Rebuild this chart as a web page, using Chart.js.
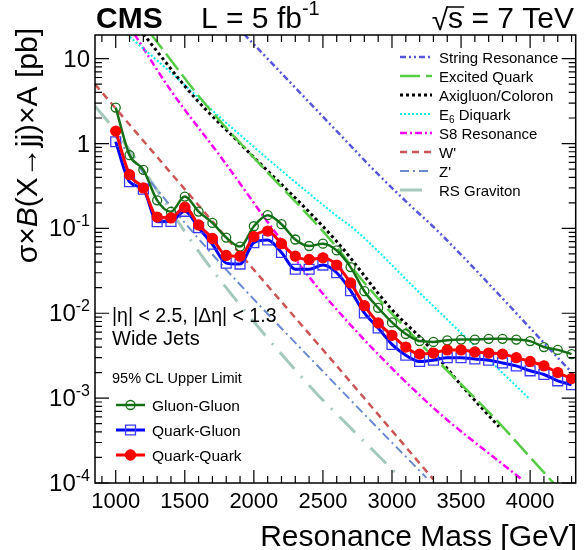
<!DOCTYPE html>
<html>
<head>
<meta charset="utf-8">
<script src="https://cdn.jsdelivr.net/npm/chart.js@4.4.0/dist/chart.umd.min.js"></script>
<style>
html, body { margin: 0; padding: 0; background: #fff; }
#wrap { width: 584px; height: 550px; position: relative; }
</style>
</head>
<body>
<div id="wrap"><canvas id="chart"></canvas></div>
<script>
"use strict";
// limits, one point per 100 GeV
const masses = [1000, 1100, 1200, 1300, 1400, 1500, 1600, 1700, 1800, 1900, 2000, 2100, 2200, 2300, 2400, 2500, 2600,
    2700, 2800, 2900, 3000, 3100, 3200, 3300, 3400, 3500, 3600, 3700, 3800, 3900, 4000, 4100, 4200, 4300];
const gluonGluon = [2.65, 0.73, 0.49, 0.214, 0.157, 0.237, 0.158, 0.116, 0.078, 0.061, 0.106, 0.143, 0.112, 0.074, 0.062, 0.066, 0.055,
    0.035, 0.0182, 0.0116, 0.0078, 0.0057, 0.0047, 0.0046, 0.0048, 0.0049, 0.0049, 0.0050, 0.0050, 0.0049, 0.0047, 0.0040, 0.0037, 0.0033];
const quarkGluon = [1.05, 0.355, 0.29, 0.12, 0.121, 0.159, 0.102, 0.065, 0.039, 0.038, 0.068, 0.073, 0.052, 0.033, 0.033, 0.037, 0.030,
    0.0185, 0.0101, 0.0067, 0.0043, 0.0032, 0.0027, 0.0028, 0.0030, 0.0030, 0.0029, 0.0028, 0.0026, 0.0024, 0.0021, 0.0019, 0.0016, 0.00144];
const quarkQuark = [1.40, 0.43, 0.30, 0.136, 0.133, 0.178, 0.110, 0.076, 0.048, 0.047, 0.080, 0.093, 0.066, 0.047, 0.043, 0.045, 0.037,
    0.0228, 0.0123, 0.0077, 0.0055, 0.0040, 0.0033, 0.0034, 0.0037, 0.0037, 0.0035, 0.0034, 0.0033, 0.0030, 0.0027, 0.0024, 0.0020, 0.0017];

// theory curves
const stringMass = [1930, 2600, 2890, 3150, 3320, 4290];
const stringXsec = [19.4, 1.4, 0.45, 0.175, 0.097, 0.0021];
const qstarMass = [1250, 1650, 2000, 2600, 2780, 3200, 3730, 4170, 4300];
const qstarXsec = [20, 2.9, 0.68, 0.06, 0.025, 0.0045, 0.00061, 0.0001, 0.00006];
const axigluonMass = [1200, 1570, 1900, 2600, 3000, 3230, 3500, 3775];
const axigluonXsec = [19.5, 3.5, 1.0, 0.07, 0.011, 0.0047, 0.00143, 0.00046];
const diquarkMass = [1080, 1430, 1760, 2600, 2730, 3200, 3990];
const diquarkXsec = [19.4, 6.2, 2.0, 0.14, 0.097, 0.0174, 0.001];
const s8Mass = [1136, 1393, 1774, 2134, 2500, 3250, 3940];
const s8Xsec = [19.4, 4.35, 0.65, 0.1, 0.017, 0.00091, 0.00011];
const wprimeMass = [850, 1450, 2070, 2600, 3300];
const wprimeXsec = [5.0, 0.36, 0.024, 0.0024, 0.00011];
const zprimeMass = [1000, 1250, 1670, 2600, 3250];
const zprimeXsec = [1.2, 0.36, 0.056, 0.0014, 0.000115];
const gravitonMass = [850, 1000, 1690, 2440, 2650, 3050];
const gravitonXsec = [2.76, 1.4, 0.034, 0.0012, 0.00054, 0.00012];

const xMin = 850, xMax = 4330;
const yMin = 1e-4, yMax = 19;
const xTicks = [1000, 1500, 2000, 2500, 3000, 3500, 4000];
const yTicks = [1e-4, 1e-3, 1e-2, 1e-1, 1, 10];
const yTickBase = ["10", "10", "10", "10", "1", "10"];
const yTickExp = ["-4", "-3", "-2", "-1", "", ""];

const FONT = '"Liberation Sans", Arial, sans-serif';

function pts(xArr, yArr) {
    return xArr.map((x, i) => ({x: x, y: yArr[i]}));
}

const theory = [
    {label: "String Resonance", data: pts(stringMass, stringXsec), color: "#5656dc", dash: [6, 3, 2, 3, 2, 3], width: 2.5},
    {label: "Excited Quark", data: pts(qstarMass, qstarXsec), color: "#55cc44", dash: [20, 6], width: 2.5},
    {label: "Axigluon/Coloron", data: pts(axigluonMass, axigluonXsec), color: "#000000", dash: [3, 3], width: 3},
    {label: "E6 Diquark", data: pts(diquarkMass, diquarkXsec), color: "#00eeee", dash: [2, 2], width: 2},
    {label: "S8 Resonance", data: pts(s8Mass, s8Xsec), color: "#ff00ff", dash: [7, 3, 2, 3], width: 2.5},
    {label: "W'", data: pts(wprimeMass, wprimeXsec), color: "#cc5555", dash: [7, 5], width: 2.5},
    {label: "Z'", data: pts(zprimeMass, zprimeXsec), color: "#6a8ad0", dash: [9, 4, 2, 4], width: 2},
    {label: "RS Graviton", data: pts(gravitonMass, gravitonXsec), color: "#a5c9bb", dash: [22, 10, 2, 10], width: 3}
];

const limits = [
    {label: "Quark-Quark", data: pts(masses, quarkQuark), color: "#ff0000", style: "circle", radius: 5, fill: "#ff0000", width: 3},
    {label: "Quark-Gluon", data: pts(masses, quarkGluon), color: "#0000ff", style: "rect", radius: 7, fill: "rgba(0,0,0,0)", width: 3, marker: "#3a3aff"},
    {label: "Gluon-Gluon", data: pts(masses, gluonGluon), color: "#157015", style: "circle", radius: 4.5, fill: "rgba(0,0,0,0)", width: 2.5}
];

const datasets = [];
limits.forEach(l => {
    datasets.push({
        label: l.label, data: l.data,
        borderColor: l.color, borderWidth: l.width,
        pointStyle: l.style, pointRadius: l.radius,
        pointBackgroundColor: l.fill, pointBorderColor: l.marker || l.color, pointBorderWidth: 1.3,
        cubicInterpolationMode: "monotone", fill: false
    });
});
theory.forEach(t => {
    datasets.push({
        label: t.label, data: t.data,
        borderColor: t.color, borderWidth: t.width, borderDash: t.dash,
        pointRadius: 0, cubicInterpolationMode: "monotone", fill: false
    });
});

function drawSup(ctx, x, y, base, exp, size, align) {
    ctx.font = size + "px " + FONT;
    const wb = ctx.measureText(base).width;
    ctx.font = Math.round(size * 0.68) + "px " + FONT;
    const we = exp ? ctx.measureText(exp).width : 0;
    let start = align === "right" ? x - wb - we : x;
    ctx.font = size + "px " + FONT;
    ctx.fillText(base, start, y);
    if(exp) {
        ctx.font = Math.round(size * 0.68) + "px " + FONT;
        ctx.fillText(exp, start + wb, y - size * 0.42);
    }
}

function legendMarker(ctx, l, x, y) {
    ctx.setLineDash([]);
    ctx.lineWidth = 1.3;
    ctx.strokeStyle = l.marker || l.color;
    ctx.fillStyle = l.fill;
    ctx.beginPath();
    if(l.style === "circle") {
        ctx.arc(x, y, l.radius, 0, Math.PI * 2);
    } else {
        const s = l.radius * Math.SQRT1_2;
        ctx.rect(x - s, y - s, 2 * s, 2 * s);
    }
    ctx.fill();
    ctx.stroke();
}

const decorations = {
    id: "decorations",
    afterDatasetsDraw(chart) {
        const ctx = chart.ctx;
        const a = chart.chartArea;
        const xs = chart.scales.x, ys = chart.scales.y;
        ctx.save();
        ctx.setLineDash([]);
        ctx.strokeStyle = "#000";
        ctx.fillStyle = "#000";

        // ticks, inside the frame
        ctx.lineWidth = 1.2;
        ctx.beginPath();
        for(let m = 900; m <= xMax; m += 100) {
            const px = xs.getPixelForValue(m);
            const len = m % 500 === 0 ? 13 : 7;
            ctx.moveTo(px, a.bottom); ctx.lineTo(px, a.bottom - len);
            ctx.moveTo(px, a.top); ctx.lineTo(px, a.top + len);
        }
        for(let e = -4; e <= 1; e++) {
            for(let k = 1; k <= 9; k++) {
                const v = k * Math.pow(10, e);
                if(v > yMax) break;
                const py = ys.getPixelForValue(v);
                const len = k === 1 ? 14 : 7;
                ctx.moveTo(a.left, py); ctx.lineTo(a.left + len, py);
                ctx.moveTo(a.right, py); ctx.lineTo(a.right - len, py);
            }
        }
        ctx.stroke();
        ctx.lineWidth = 1.5;
        ctx.strokeRect(a.left, a.top, a.right - a.left, a.bottom - a.top);

        // tick labels
        ctx.textBaseline = "alphabetic";
        ctx.font = "22px " + FONT;
        ctx.textAlign = "center";
        xTicks.forEach(v => ctx.fillText(String(v), xs.getPixelForValue(v), 508));
        ctx.textAlign = "left";
        yTicks.forEach((v, i) => drawSup(ctx, a.left - 5, ys.getPixelForValue(v) + 8, yTickBase[i], yTickExp[i], 24, "right"));

        // axis titles
        ctx.font = "30px " + FONT;
        ctx.textAlign = "right";
        ctx.fillText("Resonance Mass [GeV]", 577, 546);
        ctx.textAlign = "left";
        ctx.save();
        ctx.translate(37, 28);
        ctx.rotate(-Math.PI / 2);
        const parts = [["σ×", "30px " + FONT], ["B", "italic 30px " + FONT], ["(X→jj)×A [pb]", "30px " + FONT]];
        let total = 0;
        parts.forEach(p => { ctx.font = p[1]; total += ctx.measureText(p[0]).width; });
        let cx = -total;
        parts.forEach(p => { ctx.font = p[1]; ctx.fillText(p[0], cx, 0); cx += ctx.measureText(p[0]).width; });
        ctx.restore();

        // header
        ctx.font = "bold 30px " + FONT;
        ctx.fillText("CMS", 96, 28);
        drawSup(ctx, 201, 28, "L = 5 fb", "-1", 30, "left");
        ctx.font = "30px " + FONT;
        ctx.textAlign = "right";
        ctx.fillText("s = 7 TeV", 574, 28);
        const wText = ctx.measureText("s = 7 TeV").width;
        const wS = ctx.measureText("s").width;
        const sx = 574 - wText;
        ctx.fillText("√", sx, 30);
        ctx.lineWidth = 1.5;
        ctx.beginPath();
        ctx.moveTo(sx - 1, 7); ctx.lineTo(sx + wS + 1, 7);
        ctx.stroke();
        ctx.textAlign = "left";

        // theory legend
        theory.forEach((t, i) => {
            const cy = 57 + i * 19;
            ctx.strokeStyle = t.color;
            ctx.lineWidth = t.width;
            ctx.setLineDash(t.dash);
            ctx.beginPath();
            ctx.moveTo(400, cy); ctx.lineTo(432, cy);
            ctx.stroke();
            ctx.setLineDash([]);
            ctx.fillStyle = "#000";
            if(t.label === "E6 Diquark") {
                ctx.font = "15px " + FONT;
                ctx.fillText("E", 439, cy + 5.5);
                const wE = ctx.measureText("E").width;
                ctx.font = "10px " + FONT;
                ctx.fillText("6", 439 + wE, cy + 9);
                const w6 = ctx.measureText("6").width;
                ctx.font = "15px " + FONT;
                ctx.fillText(" Diquark", 439 + wE + w6, cy + 5.5);
            } else {
                ctx.font = "15px " + FONT;
                ctx.fillText(t.label, 439, cy + 5.5);
            }
        });

        // cuts and limit legend
        ctx.fillStyle = "#000";
        ctx.font = "19.5px " + FONT;
        ctx.fillText("|η| < 2.5, |Δη| < 1.3", 112, 322);
        ctx.font = "20px " + FONT;
        ctx.fillText("Wide Jets", 112, 345);
        ctx.font = "14.5px " + FONT;
        ctx.fillText("95% CL Upper Limit", 112, 383);
        const order = ["Gluon-Gluon", "Quark-Gluon", "Quark-Quark"];
        order.forEach((name, i) => {
            const l = limits.find(d => d.label === name);
            const cy = 405 + i * 25;
            ctx.strokeStyle = l.color;
            ctx.lineWidth = l.width;
            ctx.setLineDash([]);
            ctx.beginPath();
            ctx.moveTo(116, cy); ctx.lineTo(145, cy);
            ctx.stroke();
            legendMarker(ctx, l, 130.5, cy);
            ctx.fillStyle = "#000";
            ctx.font = "15.5px " + FONT;
            ctx.fillText(name, 152, cy + 5.5);
        });
        ctx.restore();
    }
};

new Chart(document.getElementById("chart"), {
    type: "line",
    data: {datasets: datasets},
    options: {
        responsive: true,
        maintainAspectRatio: false,
        animation: false,
        layout: {padding: {left: 95, right: 2, top: 35, bottom: 67}},
        plugins: {legend: {display: false}, tooltip: {enabled: false}},
        scales: {
            x: {type: "linear", display: false, min: xMin, max: xMax},
            y: {type: "logarithmic", display: false, min: yMin, max: yMax}
        }
    },
    plugins: [decorations]
});
</script>
</body>
</html>
